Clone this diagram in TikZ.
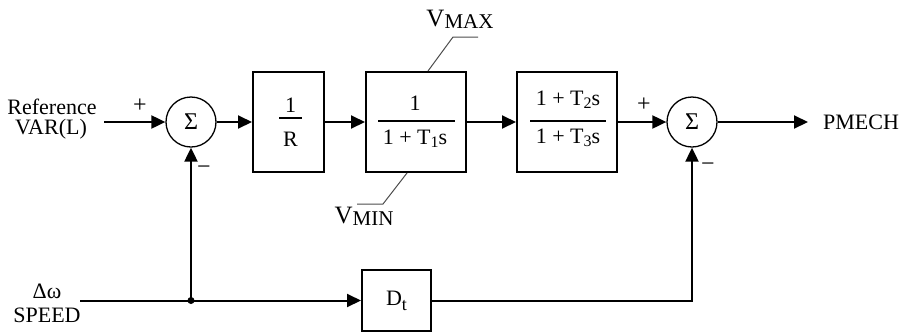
\documentclass[tikz,border=0pt]{standalone}
\usepackage{fontspec}
\setmainfont{Liberation Serif}
\usetikzlibrary{arrows.meta}
\begin{document}
\begin{tikzpicture}[x=1pt,y=-1pt,
  every node/.style={font=\fontsize{22}{20}\selectfont, inner sep=0pt},
  blk/.style={draw, line width=2pt},
  sumc/.style={draw, circle, line width=1.3pt, minimum size=50pt, font=\fontsize{24}{24}\selectfont},
  conn/.style={line width=2pt},
  arr/.style={conn, -{Triangle[length=14pt,width=13pt]}},
  lead/.style={line width=1pt, black!70},
  fbar/.style={line width=2pt},
  sgn/.style={font=\fontsize{24}{24}\selectfont}
]
\useasboundingbox (0,0) rectangle (899,333);

% summing junctions
\node[sumc] (s1) at (191,122) {Σ};
\node[sumc] (s2) at (692,122) {Σ};

% blocks
\node[blk, minimum width=71pt, minimum height=100pt] (b1) at (288.5,122) {};
\node (b1n) at (290.5,105) {1};
\node (b1d) at (290.5,139) {R};
\draw[fbar] (279,118) -- (302,118);

\node[blk, minimum width=100pt, minimum height=100pt] (b2) at (416,122) {};
\node (b2n) at (415,103.5) {1};
\node (b2d) at (415,139) {1 + T\raisebox{-3pt}{\fontsize{16}{16}\selectfont 1}s};
\draw[fbar] (378,121) -- (455,121);

\node[blk, minimum width=100pt, minimum height=100pt] (b3) at (567,122) {};
\node (b3n) at (568,100) {1 + T\raisebox{-3pt}{\fontsize{16}{16}\selectfont 2}s};
\node (b3d) at (568,138) {1 + T\raisebox{-3pt}{\fontsize{16}{16}\selectfont 3}s};
\draw[fbar] (530,121) -- (606,121);

\node[blk, minimum width=69pt, minimum height=61pt] (dt) at (396.5,300.5) {D\raisebox{-5pt}{\fontsize{18}{18}\selectfont t}};

% limits
\node (vmax) at (460,19) {\fontsize{25}{25}\selectfont V\raisebox{-2pt}{\fontsize{21}{21}\selectfont MAX}};
\draw[lead] ([xshift=12pt]b2.north) -- ++(25,-34) -- ++(25,0);
\node (vmin) at (364,216) {\fontsize{25}{25}\selectfont V\raisebox{-2pt}{\fontsize{21}{21}\selectfont MIN}};
\draw[lead] ([xshift=-9pt]b2.south) -- ++(-24,31) -- ++(-26,0);

% labels
\node (ref1) at (52,106.5) {Reference};
\node (ref2) at (51,129) {VAR(L)};
\node (spd1) at (47,291) {Δω};
\node (spd2) at (47,315) {SPEED};
\node (pm) at (861,122) {PMECH};
\node[sgn] (p1) at (140,106) {+};
\node[sgn] (m1) at (204,170) {−};
\node[sgn] (p2) at (644,105) {+};
\node[sgn] (m2) at (708,167) {−};

% connectors
\coordinate (in1) at (104,122);
\coordinate (out) at (808,122);
\coordinate (in2) at (80,300.5);
\coordinate (j) at (191,300.5);
\draw[arr] (in1) -- (s1);
\draw[arr] (s1) -- (b1);
\draw[arr] (b1) -- (b2);
\draw[arr] (b2) -- (b3);
\draw[arr] (b3) -- (s2);
\draw[arr] (s2) -- (out);
\draw[conn] (in2) -- (j);
\draw[arr] (j) -- (dt);
\draw[arr] (j) -- (s1);
\fill (j) circle (3.5pt);
\draw[arr] (dt) -| (s2);
\end{tikzpicture}
\end{document}
